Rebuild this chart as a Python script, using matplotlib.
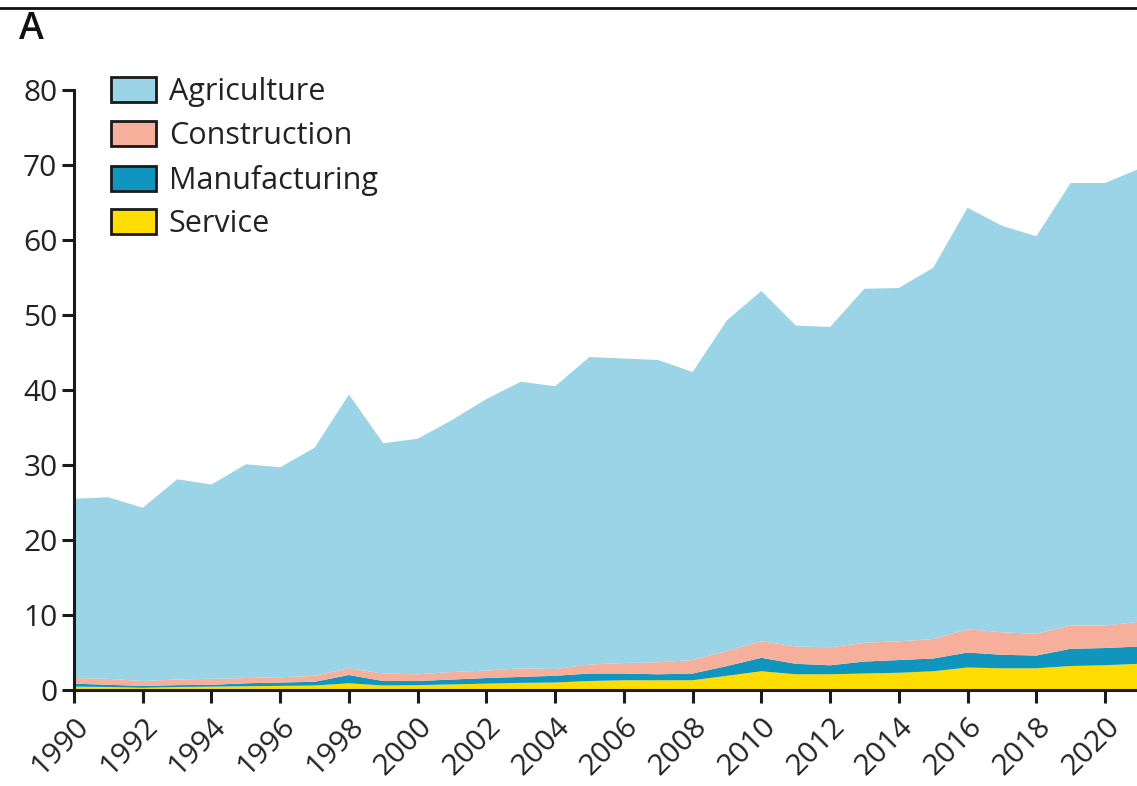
import matplotlib
matplotlib.use("Agg")
import matplotlib.pyplot as plt
from matplotlib.lines import Line2D
from matplotlib.patches import Patch
import numpy as np

# Annual values by sector, 1990-2021
years = list(range(1990, 2022))
service = [0.45, 0.40, 0.30, 0.40, 0.45, 0.50, 0.55, 0.60, 0.90, 0.60, 0.65, 0.75,
           0.85, 0.95, 1.00, 1.20, 1.30, 1.30, 1.30, 1.90, 2.50, 2.10, 2.10, 2.20,
           2.30, 2.50, 3.00, 2.90, 2.90, 3.20, 3.30, 3.50]
manufacturing = [0.40, 0.30, 0.25, 0.25, 0.25, 0.40, 0.45, 0.50, 1.10, 0.60, 0.55, 0.65,
                 0.75, 0.80, 0.90, 1.00, 0.90, 0.80, 0.90, 1.30, 1.80, 1.40, 1.20, 1.60,
                 1.70, 1.70, 2.00, 1.80, 1.70, 2.30, 2.30, 2.30]
construction = [0.75, 0.80, 0.65, 0.75, 0.80, 0.70, 0.70, 0.80, 0.90, 1.00, 0.90, 1.00,
                1.00, 1.15, 0.90, 1.20, 1.40, 1.60, 1.80, 2.00, 2.20, 2.30, 2.40, 2.50,
                2.50, 2.60, 3.10, 3.00, 2.90, 3.10, 3.00, 3.30]
agriculture = [23.9, 24.2, 23.1, 26.7, 25.9, 28.5, 28.0, 30.4, 36.5, 30.7, 31.4, 33.6,
               36.2, 38.2, 37.7, 41.0, 40.6, 40.3, 38.4, 44.1, 46.7, 42.8, 42.7, 47.2,
               47.1, 49.5, 56.2, 54.2, 53.0, 59.0, 59.0, 60.4]

sectors = ["Service", "Manufacturing", "Construction", "Agriculture"]
colors = {"Agriculture": "#9AD4E6", "Construction": "#F5AF9B",
          "Manufacturing": "#1096BE", "Service": "#FFDD00"}
series = {"Service": service, "Manufacturing": manufacturing,
          "Construction": construction, "Agriculture": agriculture}

yticks = [0, 10, 20, 30, 40, 50, 60, 70, 80]
xticks = list(range(1990, 2021, 2))

plt.rcParams["font.family"] = ["Open Sans", "DejaVu Sans"]

fig = plt.figure(figsize=(11.37, 7.86), dpi=100)
ax = fig.add_axes([0.0651, 0.1221, 0.937, 0.7634])

ax.stackplot(years, *[series[s] for s in sectors],
             colors=[colors[s] for s in sectors], linewidth=0)

ax.set_xlim(1990, 2021)
ax.set_ylim(0, 80)
ax.set_yticks(yticks)
ax.set_xticks(xticks)
ax.set_xticklabels([str(x) for x in xticks], rotation=45, ha="right",
                   rotation_mode="anchor")

for side in ("top", "right"):
    ax.spines[side].set_visible(False)
for side in ("left", "bottom"):
    ax.spines[side].set_linewidth(2.2)
    ax.spines[side].set_color("#1a1a1a")
ax.spines["bottom"].set_zorder(5)
ax.tick_params(axis="both", direction="out", length=9, width=2.2,
               color="#1a1a1a", labelsize=21.5, labelcolor="#222222", pad=3)
ax.tick_params(axis="x", pad=7)

legend_order = ["Agriculture", "Construction", "Manufacturing", "Service"]
handles = [Patch(facecolor=colors[s], edgecolor="#1a1a1a", linewidth=2)
           for s in legend_order]
fig.legend(handles, legend_order,
           loc="upper left", bbox_to_anchor=(111 / 1137, 1 - 77 / 786),
           frameon=False, fontsize=22, handlelength=1.47, handleheight=0.88,
           handletextpad=0.42, labelspacing=0.45, borderpad=0, borderaxespad=0,
           labelcolor="#222222")

# panel label and rule across the top
fig.text(19 / 1137, 1 - 29 / 786, "A", fontsize=27, fontweight="semibold",
         va="center", ha="left", color="#111111")
fig.add_artist(Line2D([0, 1], [1 - 8 / 786, 1 - 8 / 786], transform=fig.transFigure,
                      color="#111111", linewidth=2))

fig.savefig("out.png", dpi=100)
